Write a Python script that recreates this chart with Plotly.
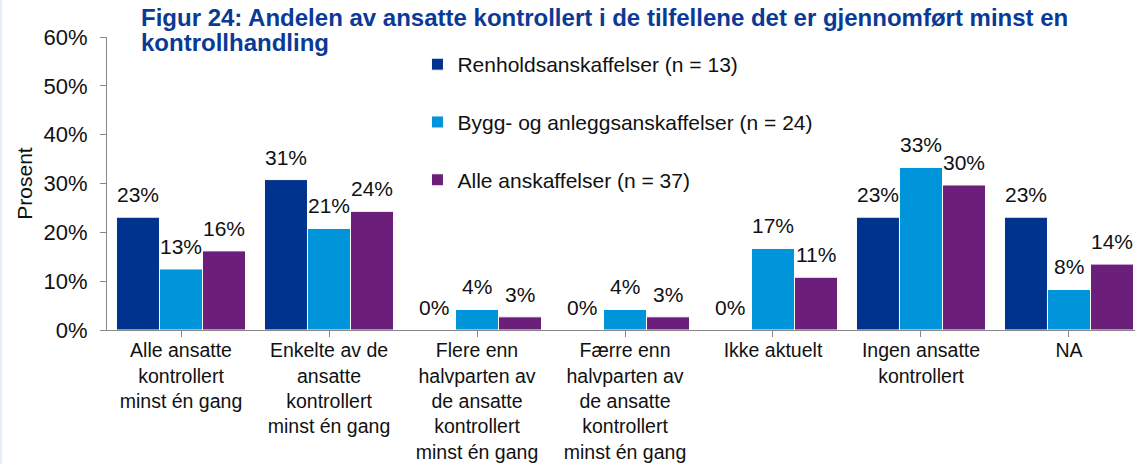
import plotly.graph_objects as go

categories = [
    "Alle ansatte<br>kontrollert<br>minst én gang",
    "Enkelte av de<br>ansatte<br>kontrollert<br>minst én gang",
    "Flere enn<br>halvparten av<br>de ansatte<br>kontrollert<br>minst én gang",
    "Færre enn<br>halvparten av<br>de ansatte<br>kontrollert<br>minst én gang",
    "Ikke aktuelt",
    "Ingen ansatte<br>kontrollert",
    "NA",
]
series_names = [
    "Renholdsanskaffelser (n = 13)",
    "Bygg- og anleggsanskaffelser (n = 24)",
    "Alle anskaffelser (n = 37)",
]
renhold = [23.1, 30.8, 0.0, 0.0, 0.0, 23.1, 23.1]
bygg = [12.5, 20.8, 4.2, 4.2, 16.7, 33.3, 8.3]
alle = [16.2, 24.3, 2.7, 2.7, 10.8, 29.7, 13.5]
y_ticks = [0, 10, 20, 30, 40, 50, 60]
colors = ["#00338E", "#0094DA", "#6B1F7B"]
title_lines = [
    "Figur 24: Andelen av ansatte kontrollert i de tilfellene det er gjennomført minst en",
    "kontrollhandling",
]

FONT = "Liberation Sans, Arial, sans-serif"
FS = 21
BARGAP = 0.128
TXT = "#111111"
W, H = 1135, 464
ML, MR, MT, MB = 107, 0, 37, 134
PW, PH = W - ML - MR, H - MT - MB

fig = go.Figure()
all_series = [renhold, bygg, alle]
for k, (name, vals, col) in enumerate(zip(series_names, all_series, colors)):
    fig.add_trace(go.Bar(
        x=list(range(len(categories))), y=vals, name=name,
        marker=dict(color=col, line=dict(color="white", width=1)),
        legendgroup=f"g{k}",
    ))

bw = (1 - BARGAP) / 3
annotations = []
for k, vals in enumerate(all_series):
    for i, v in enumerate(vals):
        annotations.append(dict(
            x=i + (k - 1) * bw, y=v, xref="x", yref="y",
            text=f"{int(v + 0.5)}%", showarrow=False,
            yanchor="bottom", yshift=9,
            font=dict(family=FONT, size=FS, color=TXT),
        ))
for j, line in enumerate(title_lines):
    annotations.append(dict(
        text=f"<b>{line}</b>", xref="paper", yref="paper",
        x=(139 - ML) / PW, y=1 + (MT - 18 - 25 * j) / PH,
        xanchor="left", yanchor="middle", align="left", showarrow=False,
        font=dict(family=FONT, size=24, color="#0A3A96"),
    ))

fig.update_layout(
    width=W, height=H,
    margin=dict(l=ML, r=MR, t=MT, b=MB, autoexpand=False),
    paper_bgcolor="white", plot_bgcolor="white",
    barmode="group", bargap=BARGAP, bargroupgap=0,
    font=dict(family=FONT, size=FS, color=TXT),
    legend=dict(
        x=0.302, y=0.976, xanchor="left", yanchor="top",
        bgcolor="rgba(0,0,0,0)", tracegroupgap=27.5,
        font=dict(family=FONT, size=FS, color=TXT),
    ),
    xaxis=dict(
        tickmode="array", tickvals=list(range(len(categories))), ticktext=categories,
        range=[-0.5, 6.446], showline=True, linecolor="#888888", linewidth=1,
        ticks="outside", ticklen=6, tickcolor="#888888", ticklabelstandoff=-3,
        showgrid=False, zeroline=False, automargin=False,
        tickfont=dict(family=FONT, size=19.5, color=TXT),
    ),
    yaxis=dict(
        range=[0, 60], tickvals=y_ticks, ticktext=[f"{t}%" for t in y_ticks],
        showline=True, linecolor="#888888", linewidth=1,
        ticks="outside", ticklen=6, tickcolor="#888888", ticklabelstandoff=8,
        showgrid=False, zeroline=False, automargin=False,
        title=dict(text="Prosent", standoff=5, font=dict(family=FONT, size=FS, color=TXT)),
        tickfont=dict(family=FONT, size=22, color=TXT),
    ),
    annotations=annotations,
    shapes=[dict(
        type="rect", xref="paper", yref="paper",
        x0=-ML / PW, x1=(2 - ML) / PW, y0=-MB / PH, y1=1 + MT / PH,
        fillcolor="#E6EEF8", line=dict(width=0), layer="below",
    )],
)

fig.write_html(
    "out.html",
    config={"displayModeBar": False},
    post_script="document.body.style.margin='0';document.body.style.overflow='hidden';",
)
